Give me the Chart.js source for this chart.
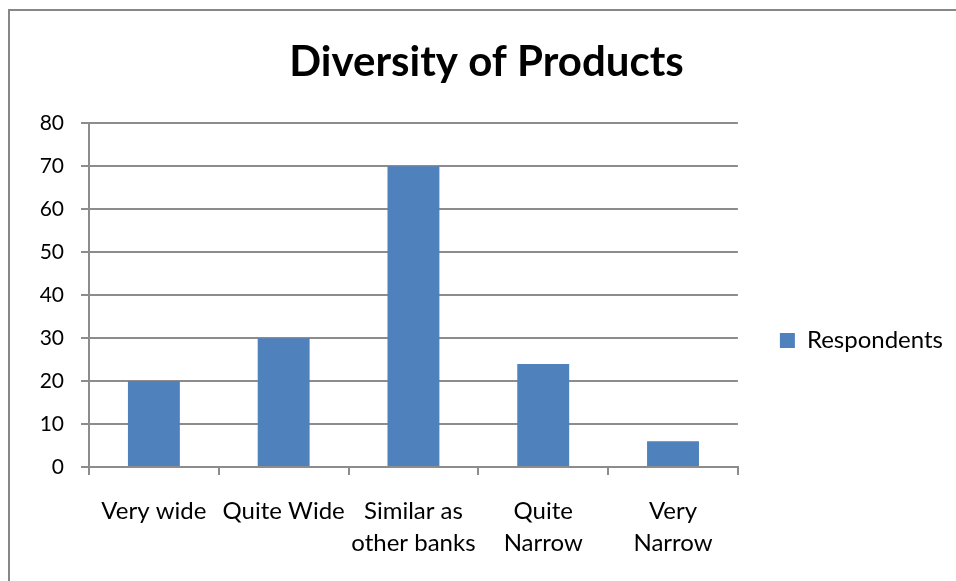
<!DOCTYPE html>
<html>
<head>
<meta charset="utf-8">
<title>Diversity of Products</title>
<script src="https://cdn.jsdelivr.net/npm/chart.js@4.4.1/dist/chart.umd.min.js"></script>
<style>
  html, body { margin: 0; padding: 0; background: #fff; overflow: hidden; width: 956px; height: 581px; }
  .marco { position: absolute; left: 8px; top: 9px; width: 1000px; height: 700px; border: 2px solid #878787; }
  .lienzo { position: absolute; left: 0; top: 0; width: 956px; height: 644px; }
</style>
</head>
<body>
<div class="marco"></div>
<div class="lienzo"><canvas id="chartCanvas"></canvas></div>
<script>
const categorias = ['Very wide', 'Quite Wide', ['Similar as', 'other banks'], ['Quite', 'Narrow'], ['Very', 'Narrow']];
const respondents = [20, 30, 70, 24, 6];
const ticksY = [0, 10, 20, 30, 40, 50, 60, 70, 80];

const gris = '#8c8c8c';
const fuente = 'Lato, "Open Sans", sans-serif';

const ctx = document.getElementById('chartCanvas').getContext('2d');
const chart = new Chart(ctx, {
    type: 'bar',
    data: {
        labels: categorias,
        datasets: [{
            label: 'Respondents',
            data: respondents,
            backgroundColor: '#4f81bd',
            borderWidth: 0,
            barPercentage: 0.4,
            categoryPercentage: 1
        }]
    },
    options: {
        responsive: true,
        maintainAspectRatio: false,
        animation: false,
        layout: {
            padding: { top: 37, left: 20, right: 3, bottom: 0 }
        },
        scales: {
            y: {
                min: 0,
                max: 80,
                afterBuildTicks: (scale) => {
                    scale.ticks = ticksY.map(v => ({ value: v }));
                },
                afterFit: (scale) => { scale.width = 69; },
                grid: {
                    color: gris,
                    lineWidth: 2,
                    tickLength: 8
                },
                border: { color: gris, width: 2 },
                ticks: {
                    color: '#000',
                    padding: 17,
                    font: { family: fuente, size: 21 }
                }
            },
            x: {
                afterFit: (scale) => { scale.height = 177; },
                grid: {
                    color: gris,
                    lineWidth: 2,
                    tickLength: 8,
                    drawOnChartArea: false
                },
                border: { color: gris, width: 2 },
                ticks: {
                    color: '#000',
                    padding: 20,
                    maxRotation: 0,
                    autoSkip: false,
                    font: { family: fuente, size: 24, lineHeight: 1.35 }
                }
            }
        },
        plugins: {
            title: {
                display: true,
                text: 'Diversity of Products',
                color: '#000',
                font: { family: fuente, size: 42, weight: 'bold', lineHeight: 1.2 },
                padding: { top: 0, bottom: 36 }
            },
            legend: {
                position: 'right',
                labels: {
                    color: '#000',
                    boxWidth: 15,
                    boxHeight: 15,
                    padding: 42,
                    font: { family: fuente, size: 24 }
                }
            },
            tooltip: { enabled: false }
        }
    }
});
</script>
</body>
</html>
